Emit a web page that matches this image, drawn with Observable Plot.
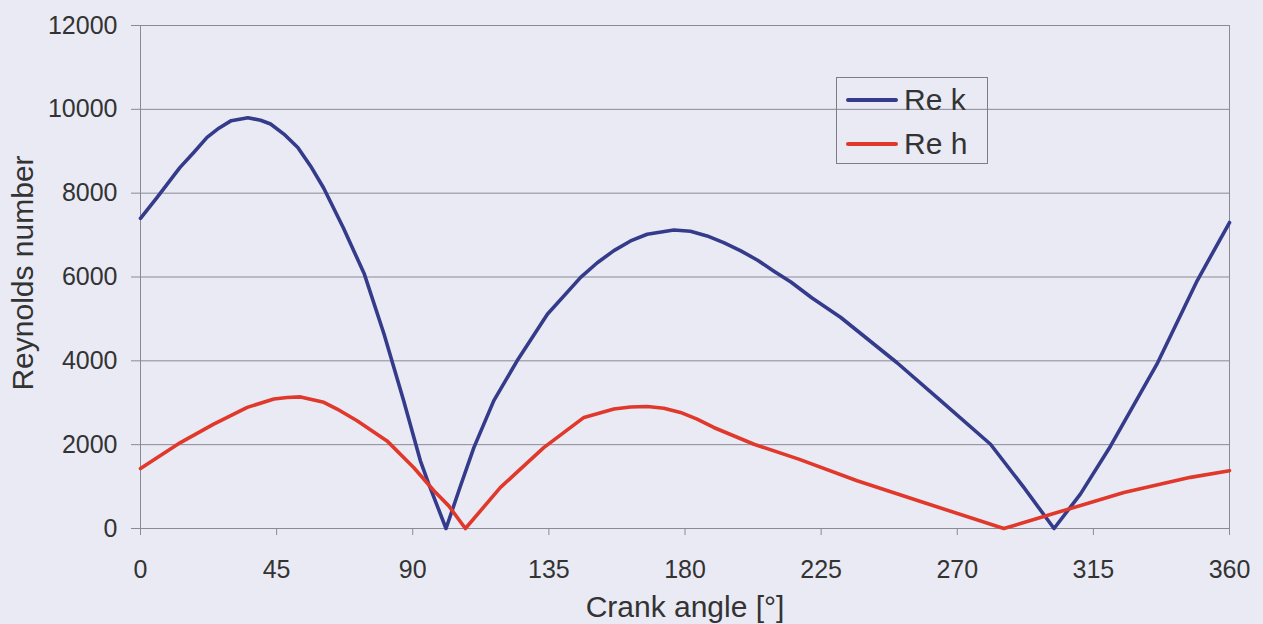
<!DOCTYPE html>
<html><head><meta charset="utf-8">
<script src="https://cdn.jsdelivr.net/npm/d3@7"></script>
<script src="https://cdn.jsdelivr.net/npm/@observablehq/plot@0.6"></script>
<style>
html,body{margin:0;padding:0;background:#e9eaf4;}
#wrap{position:relative;width:1263px;height:624px;overflow:hidden;}
#legend{position:absolute;left:836px;top:77px;width:150px;height:85px;border:1px solid #7d7d86;font-family:"Liberation Sans",Arial,sans-serif;font-size:30px;color:#333;}
.row{position:absolute;left:0;height:30px;}
.sw{position:absolute;left:9px;width:52px;height:4px;border-radius:2px;}
.lab{position:absolute;left:67px;white-space:nowrap;line-height:30px;}
</style></head>
<body><div id="wrap"></div>
<script>
const xTicks = [0, 45, 90, 135, 180, 225, 270, 315, 360];
const yTicks = [0, 2000, 4000, 6000, 8000, 10000, 12000];
const seriesNames = ["Re k", "Re h"];
const seriesColors = ["#353b8b", "#e0392c"];

const reKAngle = [0, 5.5, 13, 17.6, 22, 25.9, 30, 35.5, 39.7, 43, 47.4, 52, 56.2, 60.5, 67, 74, 80.5, 87, 92.5, 95.3, 101, 105.8, 110.2, 116.8, 124.5, 134.5, 145.5, 151, 156.5, 162, 167.5, 176.3, 181.8, 187.3, 192.8, 198.3, 204, 209.4, 215, 222, 231.4, 250, 264.5, 281, 292, 302, 310.7, 320.7, 336, 349.3, 360];
const reKValue = [7400, 7900, 8610, 8970, 9330, 9550, 9730, 9800, 9740, 9650, 9410, 9090, 8650, 8130, 7180, 6070, 4640, 3050, 1620, 1060, 0, 1020, 1930, 3050, 4000, 5110, 5990, 6340, 6630, 6860, 7020, 7120, 7090, 6980, 6820, 6630, 6400, 6140, 5880, 5500, 5040, 3960, 3050, 2010, 980, 0, 820, 1970, 3920, 5910, 7300];

const reHAngle = [0, 13.2, 24.2, 35.3, 44.1, 48.5, 52.9, 60.6, 65, 71.6, 81.5, 90.3, 97, 101.9, 107.4, 119, 133.3, 146.6, 156.5, 162, 167.5, 173, 178.5, 184, 189.5, 202.8, 217.6, 236.9, 258.9, 285.4, 303, 325.1, 347.1, 360];
const reHValue = [1430, 2050, 2490, 2890, 3090, 3125, 3140, 3010, 2850, 2570, 2090, 1455, 900, 540, 0, 980, 1930, 2650, 2850, 2900, 2910, 2870, 2770, 2610, 2410, 2010, 1655, 1140, 620, 0, 380, 860, 1220, 1380];

const xLabel = "Crank angle [°]";
const yLabel = "Reynolds number";

const data = [
  ...reKAngle.map((a, i) => ({angle: a, value: reKValue[i], series: seriesNames[0]})),
  ...reHAngle.map((a, i) => ({angle: a, value: reHValue[i], series: seriesNames[1]}))
];

const gridColor = "#8a8a94";
const chart = Plot.plot({
  width: 1263, height: 624,
  marginLeft: 140, marginRight: 34, marginTop: 25, marginBottom: 96,
  style: {background: "#e9eaf4", fontFamily: "'Liberation Sans', Arial, sans-serif", color: "#333"},
  x: {domain: [0, 360]},
  y: {domain: [0, 12000]},
  color: {domain: seriesNames, range: seriesColors},
  marks: [
    Plot.gridY(yTicks, {stroke: gridColor, strokeOpacity: 1}),
    Plot.frame({stroke: gridColor}),
    Plot.axisX(xTicks, {tickSize: 7, tickPadding: 25, fontSize: 25, stroke: gridColor, fill: "#333", label: null, tickFormat: d => String(d)}),
    Plot.axisY(yTicks, {tickSize: 9, tickPadding: 14, fontSize: 25, stroke: gridColor, fill: "#333", label: null, tickFormat: d => String(d)}),
    Plot.line(data, {x: "angle", y: "value", z: "series", stroke: "series", strokeWidth: 3.6, strokeLinejoin: "round", curve: "linear"}),
    Plot.text([xLabel], {frameAnchor: "bottom", dy: 79, fontSize: 30, fill: "#333", textAnchor: "middle", lineAnchor: "middle"}),
    Plot.text([yLabel], {frameAnchor: "left", dx: -117, dy: -4, rotate: -90, fontSize: 30, fill: "#333", textAnchor: "middle", lineAnchor: "middle"})
  ]
});
const wrap = document.getElementById("wrap");
wrap.appendChild(chart);

const legend = document.createElement("div");
legend.id = "legend";
seriesNames.forEach((name, i) => {
  const row = document.createElement("div");
  row.className = "row";
  row.style.top = (7 + i * 44) + "px";
  row.style.width = "150px";
  const sw = document.createElement("div");
  sw.className = "sw";
  sw.style.top = "13px";
  sw.style.background = seriesColors[i];
  const lab = document.createElement("div");
  lab.className = "lab";
  lab.textContent = name;
  row.appendChild(sw); row.appendChild(lab);
  legend.appendChild(row);
});
wrap.appendChild(legend);
</script>
</body></html>
